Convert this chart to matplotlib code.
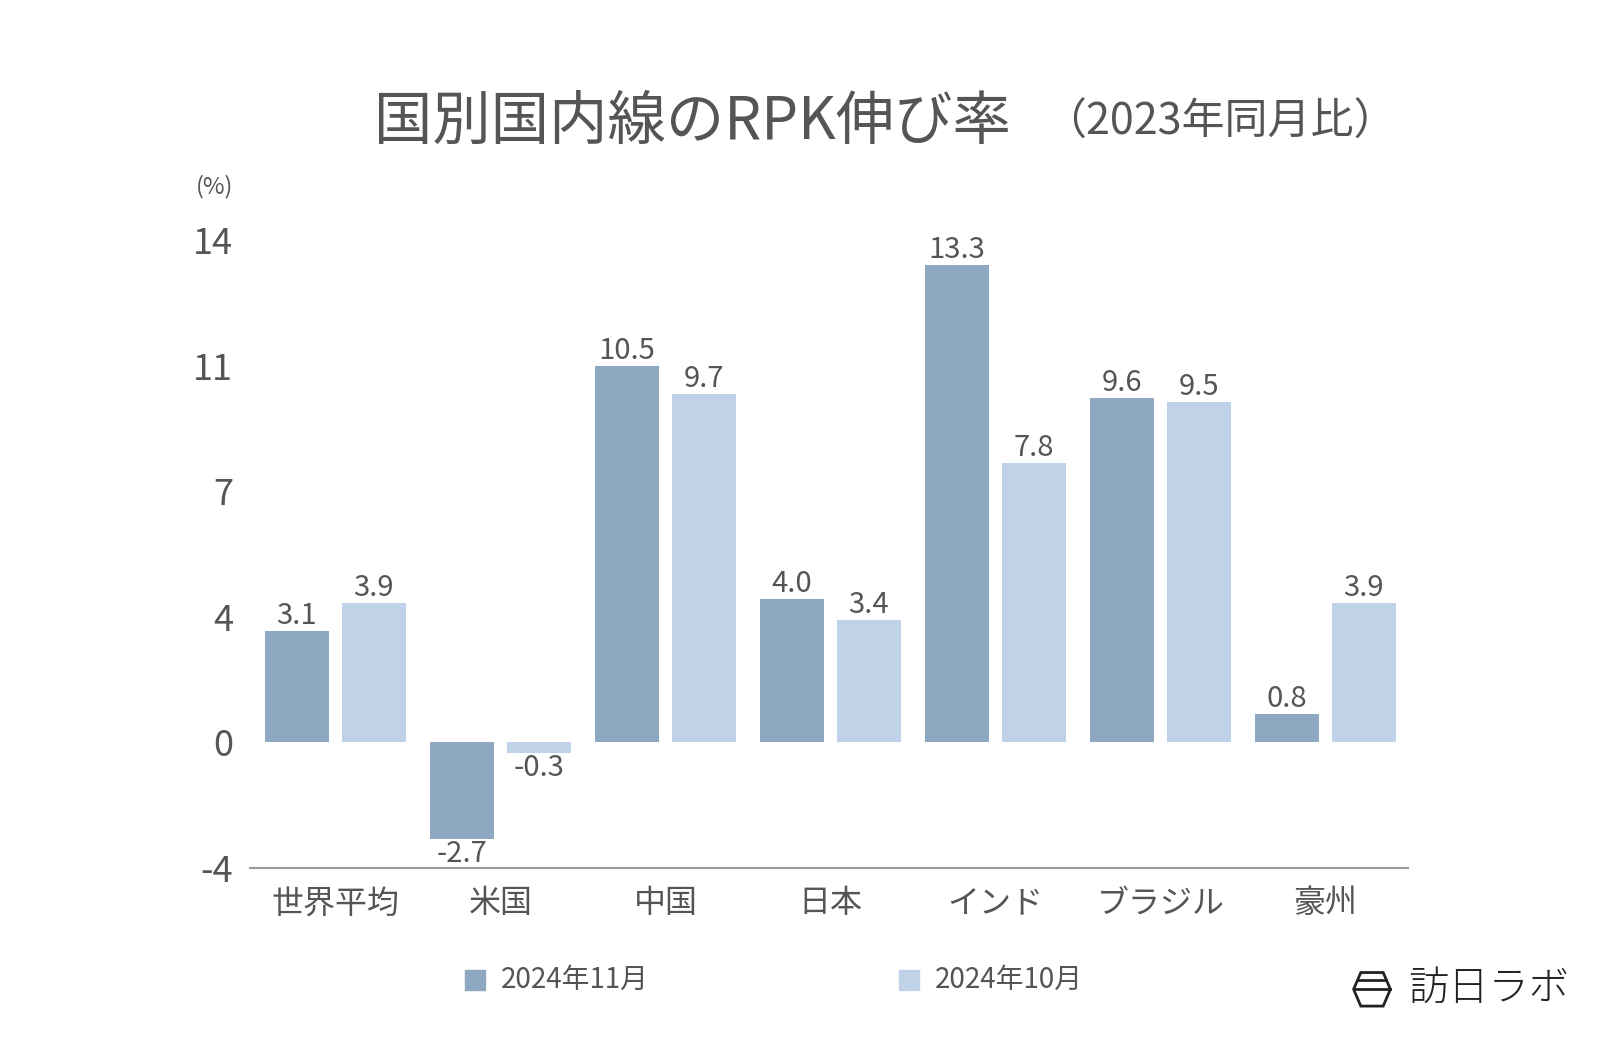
import matplotlib
matplotlib.use("Agg")
import matplotlib.pyplot as plt
import numpy as np
from matplotlib.patches import Polygon

plt.rcParams['font.family'] = ['Noto Sans CJK JP', 'DejaVu Sans']

# data
categories = ['世界平均', '米国', '中国', '日本', 'インド', 'ブラジル', '豪州']
nov_2024 = [3.1, -2.7, 10.5, 4.0, 13.3, 9.6, 0.8]
oct_2024 = [3.9, -0.3, 9.7, 3.4, 7.8, 9.5, 3.9]
series_names = ['2024年11月', '2024年10月']
ytick_pos = [-3.5, 0, 3.5, 7, 10.5, 14]
ytick_labels = ['-4', '0', '4', '7', '11', '14']

c_dark = '#8DA8C0'
c_light = '#C0D2E7'
txt = '#555555'

fig = plt.figure(figsize=(16, 10.48), dpi=100)
ax = fig.add_axes([0.156, 0.1718, 0.724, 0.599])

x = np.arange(len(categories))
w = 0.385
off = 0.233
b1 = ax.bar(x - off, nov_2024, w, color=c_dark)
b2 = ax.bar(x + off, oct_2024, w, color=c_light)

for bars, vals in ((b1, nov_2024), (b2, oct_2024)):
    for b, v in zip(bars, vals):
        if v >= 0:
            ax.annotate(f'{v:.1f}', (b.get_x() + b.get_width() / 2, v), xytext=(0, 0),
                        textcoords='offset points', ha='center', va='bottom',
                        fontsize=21, color=txt)
        else:
            ax.annotate(f'{v:.1f}', (b.get_x() + b.get_width() / 2, v), xytext=(0, 0),
                        textcoords='offset points', ha='center', va='top',
                        fontsize=21, color=txt)

ax.set_xlim(-0.52, 6.5)
ax.set_ylim(-3.5, 14)
ax.set_yticks(ytick_pos)
ax.set_yticklabels(ytick_labels, fontsize=26, color=txt)
ax.set_xticks(x)
ax.set_xticklabels(categories, fontsize=23, color=txt)
ax.tick_params(axis='y', length=0, pad=12)
ax.tick_params(axis='x', length=0, pad=14)
for s in ['top', 'right', 'left']:
    ax.spines[s].set_visible(False)
ax.spines['bottom'].set_color('#999999')
ax.spines['bottom'].set_linewidth(1.5)

fig.text(0.134, 0.822, '(%)', fontsize=17, color=txt, ha='center', va='center')

fig.text(0.234, 0.883, '国別国内線のRPK伸び率', fontsize=42, color=txt, va='center')
fig.text(0.652, 0.883, '（2023年同月比）', fontsize=31, color=txt, va='center')

# legend
ly = 0.065
fig.patches.append(plt.Rectangle((0.2905, ly - 0.0095), 0.0125, 0.019, transform=fig.transFigure,
                                 color=c_dark))
fig.text(0.313, ly, series_names[0], fontsize=20, color=txt, va='center')
fig.patches.append(plt.Rectangle((0.562, ly - 0.0095), 0.0125, 0.019, transform=fig.transFigure,
                                 color=c_light))
fig.text(0.584, ly, series_names[1], fontsize=20, color=txt, va='center')

# logo
hx, hy = 0.8575, 0.056
pts = [(hx - 0.0115, hy), (hx - 0.007, hy + 0.016), (hx + 0.007, hy + 0.016),
       (hx + 0.0115, hy), (hx + 0.007, hy - 0.016), (hx - 0.007, hy - 0.016)]
fig.patches.append(Polygon(pts, closed=True, fill=False, edgecolor='#222222', lw=2,
                           transform=fig.transFigure))
fig.add_artist(plt.Line2D([hx - 0.009, hx + 0.009], [hy + 0.009, hy + 0.009],
                          color='#222222', lw=2, transform=fig.transFigure))
fig.add_artist(plt.Line2D([hx - 0.0115, hx + 0.0115], [hy, hy],
                          color='#222222', lw=2, transform=fig.transFigure))
fig.text(0.880, 0.056, '訪日ラボ', fontsize=29, color='#222222', va='center',
         fontweight='light')

fig.savefig('out.png', dpi=100, facecolor='white')
